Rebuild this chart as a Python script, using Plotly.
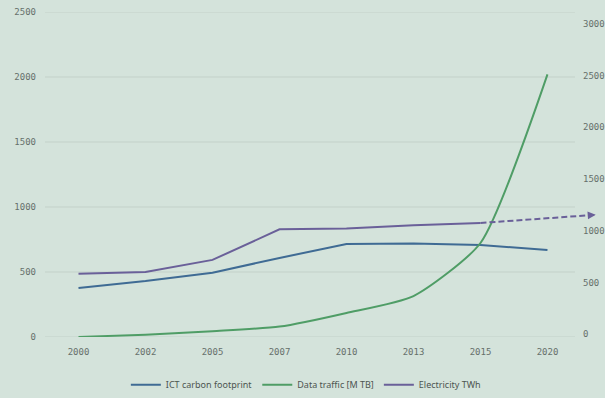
import plotly.graph_objects as go

years = ["2000", "2002", "2005", "2007", "2010", "2013", "2015", "2020"]
ict_carbon = [377, 430, 495, 608, 715, 720, 708, 670]
data_traffic = [0, 18, 45, 80, 185, 315, 723, 2020]
electricity = [487, 500, 593, 828, 835, 860, 877, None]
# projected electricity trend (dashed arrow), x as category index
elec_proj_x = [6, 7.72]
elec_proj_y = [877, 940]

left_ticks = [0, 500, 1000, 1500, 2000, 2500]
right_ticks = [0, 500, 1000, 1500, 2000, 2500, 3000]

idx = list(range(len(years)))
bg = "#d4e3db"
grid = "#c3d1c9"
purple = "#6a6099"
tickfont = dict(family="DejaVu Sans Mono", size=9, color="#66706b")

fig = go.Figure()
fig.add_trace(go.Scatter(x=idx, y=ict_carbon, name="ICT carbon footprint", mode="lines",
                         line=dict(color="#3f6b94", width=2)))
fig.add_trace(go.Scatter(x=idx, y=data_traffic, name="Data traffic [M TB]", mode="lines",
                         line=dict(color="#4f9d66", width=2, shape="spline", smoothing=0.6)))
fig.add_trace(go.Scatter(x=idx, y=electricity, name="Electricity TWh", mode="lines",
                         line=dict(color=purple, width=2)))
fig.add_trace(go.Scatter(x=elec_proj_x, y=elec_proj_y, mode="lines", showlegend=False,
                         line=dict(color=purple, width=2, dash="6px,3px")))
# arrow head at the end of the projection
fig.add_annotation(x=elec_proj_x[1], y=elec_proj_y[1], xref="x", yref="y",
                   ax=elec_proj_x[1] - 0.08,
                   ay=elec_proj_y[1] - (elec_proj_y[1] - elec_proj_y[0]) * 0.08 / (elec_proj_x[1] - elec_proj_x[0]),
                   axref="x", ayref="y", text="", showarrow=True,
                   arrowhead=2, arrowsize=0.8, arrowwidth=2, arrowcolor=purple)
# dummy trace to activate right axis
fig.add_trace(go.Scatter(x=[0], y=[0], yaxis="y2", mode="markers", showlegend=False,
                         marker=dict(opacity=0), hoverinfo="skip"))

# horizontal gridlines ending before the right-axis labels
for t in left_ticks:
    fig.add_shape(type="line", xref="paper", yref="y", x0=0, x1=0.955, y0=t, y1=t,
                  line=dict(color=grid, width=1), layer="below")

fig.update_layout(
    width=605, height=398,
    margin=dict(l=45, r=5, t=12, b=61, autoexpand=False),
    paper_bgcolor=bg, plot_bgcolor=bg,
    xaxis=dict(tickmode="array", tickvals=idx, ticktext=years, range=[-0.5, 7.784],
               showgrid=False, zeroline=False, showline=False, tickfont=tickfont,
               ticklabelstandoff=8),
    yaxis=dict(range=[0, 2500], tickvals=left_ticks, showgrid=False,
               zeroline=False, showline=False, tickfont=tickfont,
               ticklabelstandoff=8),
    yaxis2=dict(overlaying="y", side="right", anchor="free", position=0.964,
                range=[-28, 3114], tickvals=right_ticks,
                showgrid=False, zeroline=False, showline=False, tickfont=tickfont,
                ticklabelstandoff=2),
    legend=dict(orientation="h", x=0.47, xanchor="center", y=-0.147, yanchor="middle",
                font=dict(family="Noto Sans", size=9, color="#4d5551"),
                bgcolor="rgba(0,0,0,0)"),
    showlegend=True,
)

fig.write_html("out.html", config={"displayModeBar": False},
               post_script="document.body.style.margin='0';document.body.style.background='#d4e3db';")
